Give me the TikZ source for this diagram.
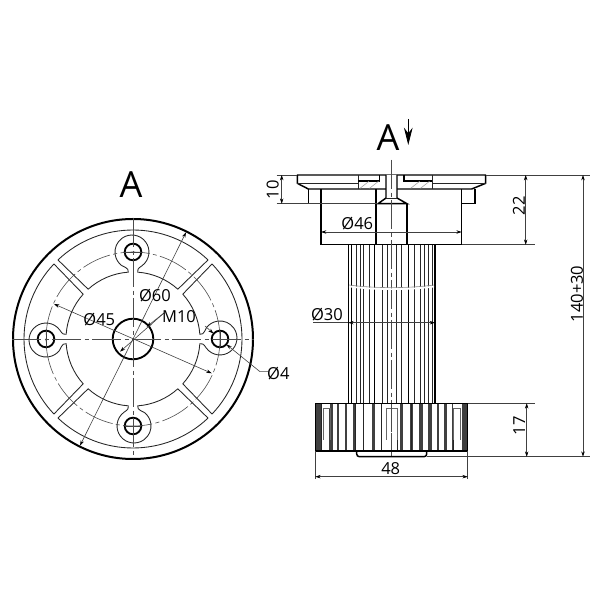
\documentclass[tikz,border=0pt]{standalone}
\usepackage{fontspec}
\setmainfont{Open Sans}
\usetikzlibrary{arrows.meta}
\tikzset{
	thickline/.style={line width=1.1pt,black},
	thinline/.style={line width=.65pt,black!85},
	dimline/.style={line width=.45pt,black!75},
	dimarrow/.style={dimline,{Stealth[length=4pt,width=2.6pt,black]}-{Stealth[length=4pt,width=2.6pt,black]}},
	tiparrow/.style={dimline,-{Stealth[length=4pt,width=2.6pt,black]}},
	axisline/.style={line width=.45pt,black!70,dash pattern=on 22pt off 2.5pt on 3pt off 2.5pt},
	dimtext/.style={inner sep=0pt,font=\fontsize{12.4}{14}\selectfont},
	viewtext/.style={inner sep=0pt,font=\fontsize{27}{30}\selectfont},
}
\begin{document}
\begin{tikzpicture}[x=.75pt,y=.75pt]
	\useasboundingbox (0,0) rectangle (600,600);
	% view from above
	\begin{scope}[shift={(133,261)}]
		\foreach \rot in {0,90,180,270}{
			\begin{scope}[rotate=\rot]
				\draw[thinline,line join=round] (133.5:109) arc[start angle=133.5,end angle=46.5,radius=109]
					-- (48:67) arc[start angle=48,end angle=86,radius=67]
					.. controls (4.5,69) and (4.2,70.2) .. (9.2,73.4)
					arc[start angle=-53,end angle=233,radius=17]
					.. controls (-4.2,70.2) and (-4.5,69) .. (94:67)
					arc[start angle=94,end angle=132,radius=67] -- cycle;
				\draw[thickline,line width=1.4pt] (0,87) circle (8.3);
				\draw[dimline] (-8.3,87) -- (8.3,87);
			\end{scope}
		}
		\draw[line width=1.5pt] (0,0) circle (120);
		\draw[thickline,line width=1.4pt] (0,0) circle (20.3);
		\draw[axisline] (0,0) circle (87);
		\draw[axisline] (-121,0) -- (120.5,0);
		\draw[axisline] (0,121) -- (0,-119);
		\draw[dimarrow] (-53,-106.7) -- (53,106.7);
		\draw[dimarrow] (-79,35) -- (78.7,-34.3);
		\draw[tiparrow] (31,26) -- (13.7,12.3);
		\draw[tiparrow] (31,26) -- (-13,-12.7);
		\draw[tiparrow] (72,13) -- (80.5,5.5);
		\draw[tiparrow] (135,-32.7) -- (127,-32.7) -- (93.5,-5.5);
		\node[dimtext] (dsixty) at (22,43) {Ø60};
		\node[dimtext] (dfortyfive) at (-33.7,19) {Ø45};
		\node[dimtext] (mten) at (46,22.3) {M10};
		\node[dimtext] (dfour) at (145.3,-35) {Ø4};
	\end{scope}
	\node[viewtext] (viewleft) at (131,415) {A};
	% side view
	\draw[axisline] (391.7,440) -- (391.7,143);
	\foreach \x in {356.7,360,363.3,369,382.3,387.3,396,401.7,414.3,420,424,428.3,432.3}
		\draw[thinline] (\x,355.3) -- (\x,196.7);
	\foreach \x in {348.3,351.7,374.3,408.3,435}
		\draw[thickline] (\x,355.3) -- (\x,196.7);
	\draw[white,line width=1.3pt] (349,313.5) .. controls (375,310) and (408,310) .. (434,313.5);
	\draw[dimline,black!45] (349,315) .. controls (375,311.5) and (408,311.5) .. (434,315);
	% flange
	\draw[thickline,line join=round] (321,411) -- (308.3,411) -- (297.3,416.7) -- (297.3,425) -- (485.7,425) -- (485.7,416.7) -- (471.7,411) -- (321,411);
	\draw[thinline] (297.3,416.7) -- (358,416.7) (432,416.7) -- (485.7,416.7);
	\draw[thinline] (358,425) -- (358,411) (432,425) -- (432,411);
	\draw[thickline] (358,419) -- (379.5,419) -- (379.5,425) (404,425) -- (404,419) -- (432,419);
	\draw[thickline,fill=white] (386,425) -- (386,402) -- (378,396.3) -- (407,396.3) -- (397,402) -- (397,425);
	\draw[thinline] (386,402) -- (397,402);
	\foreach \x in {360,369.5,410.7,420.5}
		\draw[dimline,black!35] (\x,411.7) -- ++(9,7);
	% body
	\draw[thickline] (321,411) -- (321,355.3) -- (461.7,355.3) -- (461.7,411);
	\draw[thickline] (376,411) -- (376,355.3) (407,396.3) -- (407,355.3);
	\draw[thickline] (308.3,411) -- (308.3,396.3) -- (321,396.3) (475,411) -- (475,396.3) -- (461.7,396.3);
	\draw[axisline] (391.7,440) -- (391.7,355);
	% base
	\foreach \x/\w in {318/5,331/3.4,338/2.6,345.8/1.6,353.8/2.3,363.3/1.2,373.3/3,381.7/1.1,401.3/2.7,411.3/2.7,421/3.4,430/3.4,438/2.6,445.7/3.3,452.5/1.6,464/5}
		\fill[black!75] ({\x-\w/2},196.7) rectangle ({\x+\w/2},149);
	\foreach \x in {321.5,355,363,381.7,397.3,411.7,453.3}
		\draw[thinline] (\x,196.7) -- (\x,149);
	\foreach \a/\b in {323/330,386/397.7,453/460}{
		\fill[white] (\a,195.6) rectangle (\b,191.7);
		\draw[dimline,black!60] (\a,160) -- (\a,191.7) -- (\b,191.7) -- (\b,160);
	}
	\draw[axisline] (391.7,197) -- (391.7,143.3);
	\draw[thickline] (315.3,149) rectangle (467.7,196.7);
	\draw[thickline,rounded corners=2pt] (356.7,149) -- (356.7,143.3) -- (426.7,143.3) -- (426.7,149);
	% dimensions
	\draw[dimline] (276.7,425) -- (297.3,425) (276.7,396.3) -- (378,396.3);
	\draw[dimarrow] (281.7,425) -- (281.7,396.3);
	\node[dimtext,rotate=90] (dten) at (272.7,410) {10};
	\draw[dimline] (485.7,425) -- (590,425) (461.7,355.3) -- (535,355.3) (467.7,196.7) -- (535,196.7) (426.7,143.3) -- (590,143.3);
	\draw[dimarrow] (525.7,425) -- (525.7,355.3);
	\node[dimtext,rotate=90] (dtwentytwo) at (519,394.3) {22};
	\draw[dimarrow] (583,425) -- (583,143.3);
	\node[dimtext,rotate=90] (dheight) at (577,306) {140+30};
	\draw[dimarrow] (526.7,196.7) -- (526.7,143.3);
	\node[dimtext,rotate=90] (dseventeen) at (519.3,174) {17};
	\draw[dimline] (315.3,149) -- (315.3,121) (467.7,149) -- (467.7,121);
	\draw[dimarrow] (315.3,123.3) -- (467.7,123.3);
	\node[dimtext] (dfortyeight) at (390.7,131.7) {48};
	\draw[dimarrow] (321,368) -- (461.7,368);
	\node[dimtext] (dfortysix) at (357.3,376) {Ø46};
	\draw[dimline] (313,277.3) -- (348,277.3);
	\draw[dimarrow] (348.3,277.3) -- (435,277.3);
	\node[dimtext] (dthirty) at (327,285) {Ø30};
	\node[viewtext] (viewright) at (388,462) {A};
	\draw[line width=.6pt,-{Stealth[length=13pt,width=6.5pt]}] (408.3,481) -- (408.3,455);
\end{tikzpicture}
\end{document}
